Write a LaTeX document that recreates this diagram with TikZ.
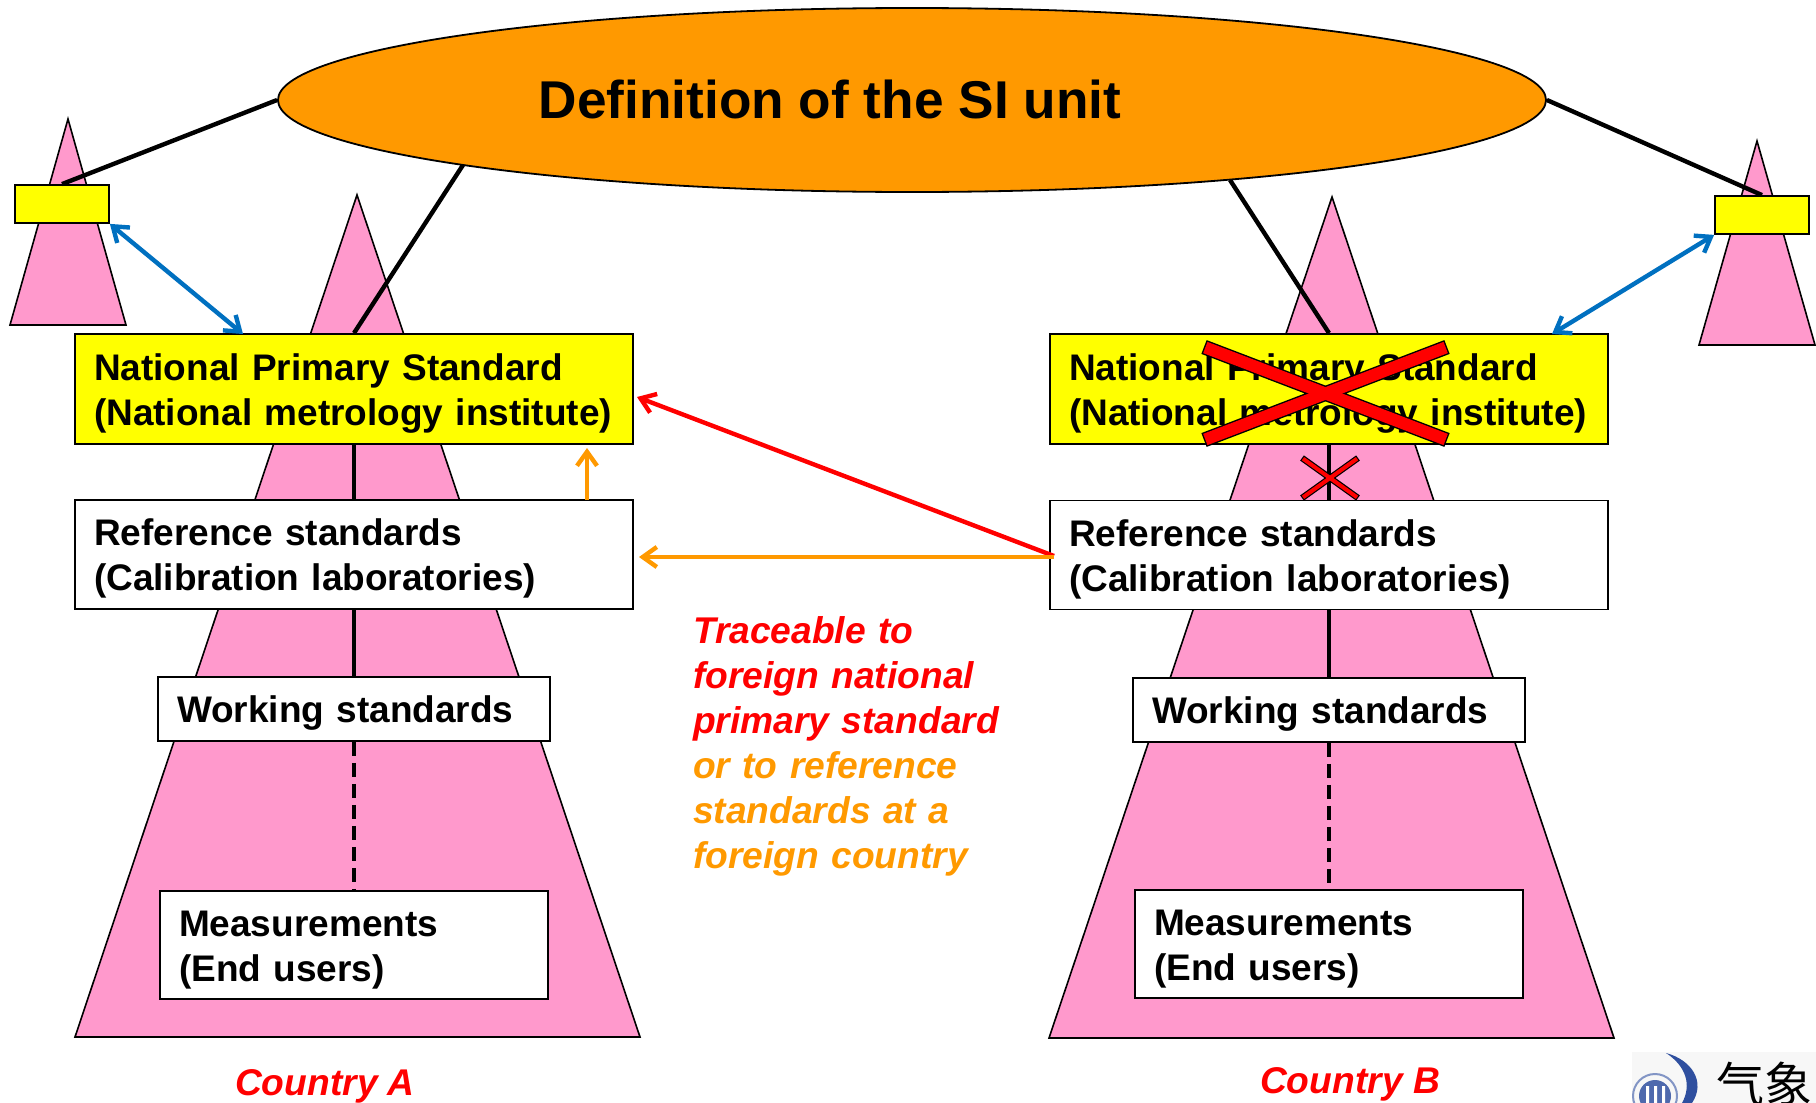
\documentclass[tikz,border=0pt]{standalone}
\usepackage{fontspec}
\setmainfont{Liberation Sans}
\newfontfamily\cjk{Noto Sans CJK SC}
\usetikzlibrary{arrows.meta,shapes.geometric}
\definecolor{tripink}{HTML}{FF99CC}
\definecolor{siorange}{HTML}{FF9900}
\definecolor{linkblue}{HTML}{0070C0}
\definecolor{logoblue}{HTML}{2F4F9F}
\definecolor{boxyellow}{HTML}{FFFF00}
\definecolor{crossred}{HTML}{FF0000}

\begin{document}
\begin{tikzpicture}[x=0.5pt,y=-0.5pt,>={Straight Barb[length=7pt,width=10pt]},
							tri/.style={draw=black,fill=tripink,line width=0.8pt},
							main box/.style={rectangle,draw=black,fill=white,line width=0.9pt,align=left,inner ysep=0pt,inner xsep=9.5pt,
								execute at begin node={\rule{0pt}{17.5pt}},font=\fontsize{18.5}{22.5}\selectfont\bfseries},
							nps box/.style={main box,fill=boxyellow,text width=260pt,minimum height=55pt},
							ref box/.style={main box,text width=260pt,minimum height=54.5pt},
							work box/.style={main box,text width=177pt,minimum height=32pt},
							meas box/.style={main box,text width=175pt,minimum height=54pt},
							small box/.style={rectangle,draw=black,fill=boxyellow,line width=0.9pt,minimum width=47pt,minimum height=19pt,inner sep=0pt},
							note/.style={inner sep=0pt,align=left,text width=170pt,font=\fontsize{18.6}{22.5}\selectfont\bfseries\itshape},
							link/.style={black,line width=2.2pt},
							cross line/.style={line width=#1,line cap=butt}]

							\useasboundingbox (0,0) rectangle (1816,1103);

							% pyramids
							\coordinate (cn1) at (68,119);
							\coordinate (cn2) at (357,195);
							\coordinate (cn3) at (1332,197);
							\coordinate (cn4) at (1757,141);
							\draw[tri] (cn1) -- (10,325) -- (126,325) -- cycle;
							\draw[tri] (cn2) -- (75,1037) -- (640,1037) -- cycle;
							\draw[tri] (cn3) -- (1049,1038) -- (1614,1038) -- cycle;
							\draw[tri] (cn4) -- (1699,345) -- (1815,345) -- cycle;

							% logo
							\begin{scope}
								\clip (1632,1052) rectangle (1816,1103);
								\fill[black!3] (1632,1052) rectangle (1816,1103);
								\draw[logoblue!60,line width=1pt] (1655,1096) circle (22);
								\fill[logoblue!85] (1655,1096) circle (16);
								\fill[white] (1646,1086) rectangle (1649,1103) (1654,1086) rectangle (1657,1103) (1662,1086) rectangle (1665,1103);
								\fill[logoblue] (1666,1053) .. controls (1692,1060) and (1706,1082) .. (1692,1103) -- (1682,1103) .. controls (1692,1085) and (1686,1066) .. (1666,1053) -- cycle;
								\node[inner sep=0pt,anchor=north west,font=\fontsize{24}{24}\cjk] (logo) at (1716,1062) {气象};
							\end{scope}

							\node[ellipse,draw=black,fill=siorange,line width=0.9pt,minimum width=634pt,minimum height=92pt,inner sep=0pt] (si) at (912,100) {};
							\node[inner sep=0pt,font=\fontsize{26.6}{30}\selectfont\bfseries] (title) at (830,99) {Definition of the SI unit};

							\node[small box] (small a) at (62,204) {};
							\node[small box] (small b) at (1762,215) {};

							\node[nps box] (nps a) at (354,389) {National Primary Standard\\(National metrology institute)};
							\node[ref box] (ref a) [below of=nps a,node distance=82.75pt] {Reference standards\\(Calibration laboratories)};
							\node[work box] (work a) [below of=ref a,node distance=77.25pt] {Working standards};
							\node[meas box] (meas a) [below of=work a,node distance=118pt] {Measurements\\(End users)};

							\node[nps box] (nps b) [right of=nps a,node distance=487.5pt] {National Primary Standard\\(National metrology institute)};
							\node[ref box] (ref b) [below of=nps b,node distance=83pt] {Reference standards\\(Calibration laboratories)};
							\node[work box] (work b) [below of=ref b,node distance=77.5pt] {Working standards};
							\node[meas box] (meas b) [below of=work b,node distance=117pt] {Measurements\\(End users)};

							\node[note,text=crossred] (trace) at (863,679) {Traceable to\\foreign national\\primary standard};
							\node[note,text=siorange] (foreign) [below of=trace,node distance=67.5pt] {or to reference\\standards at a\\foreign country};

							\node[inner sep=0pt,text=crossred,font=\fontsize{18.6}{22}\selectfont\bfseries\itshape] (country a) at (325,1086) {Country A};
							\node[inner sep=0pt,text=crossred,font=\fontsize{18.6}{22}\selectfont\bfseries\itshape] (country b) at (1350,1084) {Country B};

							\coordinate (si left) at (463,165);
							\coordinate (si right) at (1230,180);
							\coordinate (blue a) at (243,334);
							\coordinate (blue b) at (1552,334);
							\coordinate (up start) at (587,500);
							\coordinate (up end) at (587,448);
							\coordinate (orange start) at (1054,557);
							\coordinate (orange end) at (639,557);
							\coordinate (red start) at (1054,556);
							\coordinate (red end) at (637,397);

							\path[link]
								(si.west) edge (small a.north)
								(si left) edge (nps a.north)
								(si.east) edge (small b.north)
								(si right) edge (nps b.north)
								(nps a) edge (ref a)
								(ref a) edge (work a)
								(nps b) edge (ref b)
								(ref b) edge (work b);
							\path[link,dash pattern=on 7pt off 3.5pt]
								(work a) edge (meas a)
								(work b) edge (meas b);

							\path[<->,linkblue,line width=2.2pt]
								(small a.south east) edge (blue a)
								(small b.south west) edge (blue b);
							\path[->,crossred,line width=2.2pt]
								(red start) edge (red end);
							\path[->,siorange,line width=2.2pt]
								(orange start) edge (orange end)
								(up start) edge (up end);

							% crossed out
							\coordinate (xa) at (1204,347);
							\coordinate (xb) at (1447,440);
							\coordinate (xc) at (1447,347);
							\coordinate (xd) at (1204,440);
							\draw[black,cross line=7.4pt] (xa) -- (xb) (xc) -- (xd);
							\draw[crossred,cross line=6pt,shorten >=0.7pt,shorten <=0.7pt] (xa) -- (xb);
							\draw[crossred,cross line=6pt,shorten >=0.7pt,shorten <=0.7pt] (xc) -- (xd);
							\coordinate (ya) at (1302,458);
							\coordinate (yb) at (1358,498);
							\coordinate (yc) at (1358,458);
							\coordinate (yd) at (1302,498);
							\draw[black,cross line=3.2pt] (ya) -- (yb) (yc) -- (yd);
							\draw[crossred,cross line=2pt,shorten >=0.6pt,shorten <=0.6pt] (ya) -- (yb);
							\draw[crossred,cross line=2pt,shorten >=0.6pt,shorten <=0.6pt] (yc) -- (yd);
\end{tikzpicture}
\end{document}
